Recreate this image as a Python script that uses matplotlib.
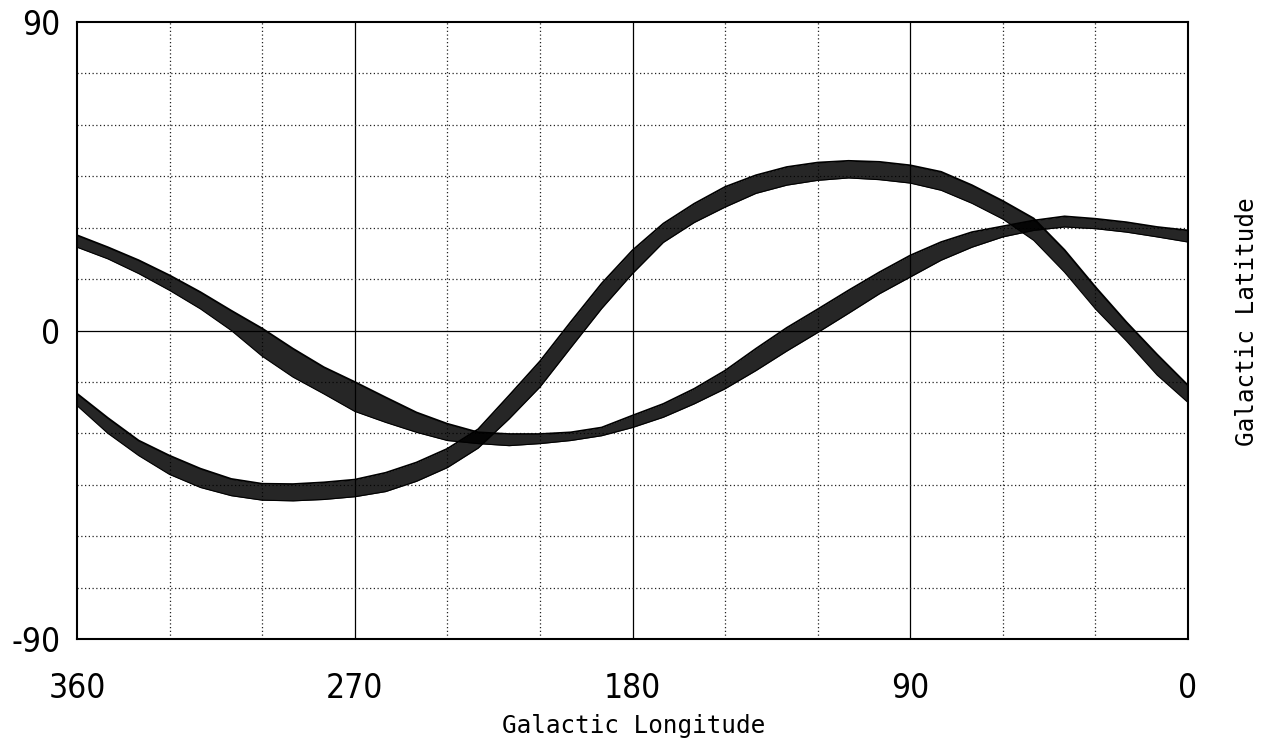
import matplotlib
matplotlib.use("Agg")
import matplotlib.pyplot as plt
from matplotlib import font_manager

plt.rcParams["axes.unicode_minus"] = False

# galactic longitude samples (deg), read every 10 deg
lon = [360, 350, 340, 330, 320, 310, 300, 290, 280, 270, 260, 250, 240,
       230, 220, 210, 200, 190, 180, 170, 160, 150, 140, 130, 120, 110,
       100, 90, 80, 70, 60, 50, 40, 30, 20, 10, 0]

# bundle 1 (large amplitude) - upper / lower edge of the band of curves
band1_hi = [-18.4, -25.5, -32.1, -36.5, -40.3, -43.3, -44.7, -44.8, -44.3,
            -43.5, -41.5, -38.5, -34.5, -28.8, -19.0, -9.0, 2.5, 13.7, 23.4,
            31.2, 37.0, 41.9, 45.3, 47.7, 49.0, 49.5, 49.2, 48.2, 46.3, 42.4,
            37.8, 32.7, 23.5, 12.7, 2.5, -7.0, -16.0]
band1_lo = [-21.9, -30.0, -36.5, -42.0, -45.8, -48.2, -49.5, -49.7, -49.3,
            -48.5, -47.0, -44.0, -40.0, -34.3, -25.8, -16.5, -5.0, 6.4, 16.6,
            25.7, 31.5, 36.0, 40.0, 42.4, 43.8, 44.5, 44.0, 43.0, 40.9, 37.1,
            32.5, 26.3, 17.0, 6.3, -3.0, -13.0, -21.0]

# bundle 2 (small amplitude)
band2_hi = [27.8, 24.3, 20.5, 16.1, 11.2, 5.8, 0.6, -5.3, -10.7, -15.0,
            -19.5, -23.9, -27.2, -29.7, -30.2, -30.2, -29.7, -28.3, -24.8,
            -21.4, -17.0, -11.7, -5.3, 0.8, 6.2, 11.7, 17.0, 21.9, 25.8, 28.7,
            30.4, 32.1, 33.3, 32.6, 31.6, 30.2, 29.2]
band2_lo = [24.3, 20.9, 16.6, 11.7, 6.3, 0.0, -7.5, -13.6, -18.5, -23.6,
            -26.8, -29.7, -32.1, -33.0, -33.6, -33.0, -32.1, -30.7, -28.3,
            -25.3, -21.4, -17.0, -11.7, -6.0, -0.6, 5.0, 10.7, 15.6, 20.5,
            24.3, 27.3, 29.2, 30.2, 29.7, 28.7, 27.3, 25.8]

# narrow digits if a condensed face exists, else a narrower sans
tick_props = dict(family=["DejaVu Sans"], stretch="condensed", size=24)
found = font_manager.findfont(font_manager.FontProperties(**tick_props))
if "ondensed" not in found:
    tick_props = dict(family=["Roboto", "DejaVu Sans"], size=23)
label_font = ["DejaVu Sans Mono"]

fig = plt.figure(figsize=(12.71, 7.44), dpi=100)
ax = fig.add_axes([77 / 1271, 1 - 639 / 744, (1188 - 77) / 1271, (639 - 22) / 744])

# grid: dotted every 30 / 15 deg, solid at the main lines
for x in range(30, 360, 30):
    if x % 90 == 0:
        ax.axvline(x, color="black", lw=0.9, zorder=1)
    else:
        ax.axvline(x, color="#222222", lw=0.9, ls=(0, (1, 2)), zorder=1)
for y in range(-75, 90, 15):
    if y == 0:
        ax.axhline(y, color="black", lw=0.9, zorder=1)
    else:
        ax.axhline(y, color="#222222", lw=0.9, ls=(0, (1, 2)), zorder=1)

for hi, lo in [(band1_hi, band1_lo), (band2_hi, band2_lo)]:
    ax.fill_between(lon, hi, lo, color="black", alpha=0.85, lw=0, zorder=2)
    ax.plot(lon, hi, color="black", lw=1.3, zorder=3)
    ax.plot(lon, lo, color="black", lw=0.8, zorder=3)

ax.set_xlim(360, 0)
ax.set_ylim(-90, 90)
ax.set_xticks([360, 270, 180, 90, 0])
ax.set_yticks([-90, 0, 90])
ax.tick_params(axis="x", length=0, pad=24)
ax.tick_params(axis="y", length=0, pad=12)
for lab in ax.get_xticklabels() + ax.get_yticklabels():
    lab.set_fontproperties(font_manager.FontProperties(**tick_props))
for s in ax.spines.values():
    s.set_linewidth(1.5)
    s.set_color("black")

fig.text(634 / 1271, 1 - 726 / 744, "Galactic Longitude", family=label_font,
         fontsize=17.5, ha="center", va="center")
fig.text(1247 / 1271, 1 - 322 / 744, "Galactic Latitude", family=label_font,
         fontsize=17.5, ha="center", va="center", rotation=90)

fig.savefig("out.png", dpi=100)
